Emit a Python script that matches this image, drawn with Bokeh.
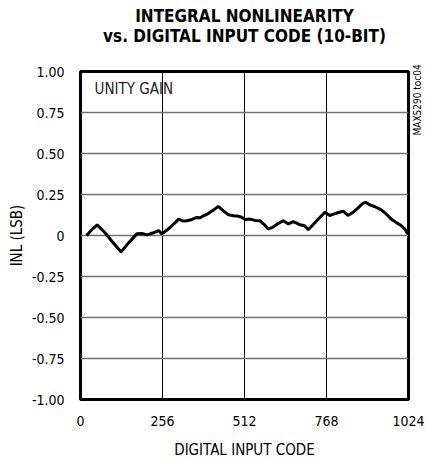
from bokeh.plotting import figure
from bokeh.models import Range1d, FixedTicker, Label, Title
from bokeh.embed import file_html
from bokeh.resources import INLINE

code = [19, 35, 52, 75, 100, 127, 150, 176, 192, 208, 225, 244, 254, 268, 280, 294, 306, 320, 332,
        348, 363, 374, 384, 400, 415, 430, 446, 462, 478, 493, 505, 514, 530, 545, 560, 572, 586,
        600, 615, 633, 649, 664, 675, 685, 700, 711, 728, 745, 763, 778, 790, 805, 820, 835, 850,
        865, 878, 889, 905, 918, 939, 955, 970, 985, 1001, 1012, 1022]
inl = [0.0, 0.035, 0.065, 0.02, -0.04, -0.10, -0.045, 0.01, 0.012, 0.004, 0.015, 0.03, 0.01, 0.03,
       0.05, 0.075, 0.10, 0.088, 0.09, 0.098, 0.11, 0.108, 0.12, 0.135, 0.155, 0.178, 0.15, 0.126,
       0.12, 0.117, 0.11, 0.097, 0.1, 0.092, 0.09, 0.07, 0.04, 0.05, 0.07, 0.09, 0.07, 0.085, 0.075,
       0.065, 0.06, 0.035, 0.07, 0.105, 0.142, 0.122, 0.13, 0.14, 0.148, 0.122, 0.14, 0.165, 0.19,
       0.203, 0.185, 0.177, 0.156, 0.13, 0.10, 0.08, 0.061, 0.04, 0.01]

x_ticks = [0, 256, 512, 768, 1024]
y_ticks = [1.0, 0.75, 0.5, 0.25, 0.0, -0.25, -0.5, -0.75, -1.0]
y_tick_labels = ["1.00", "0.75", "0.50", "0.25", "0", "-0.25", "-0.50", "-0.75", "-1.00"]

title_lines = ["INTEGRAL NONLINEARITY", "vs. DIGITAL INPUT CODE (10-BIT)"]

FONT = "DejaVu Sans Condensed, Liberation Sans"

p = figure(width=426, height=461, output_backend="svg", toolbar_location=None,
           x_range=Range1d(0, 1024), y_range=Range1d(-1, 1),
           min_border_left=80, min_border_right=18, min_border_top=71, min_border_bottom=62)

p.line(code, inl, line_color="black", line_width=3)

p.outline_line_color = "black"
p.outline_line_width = 3
p.background_fill_color = "white"
p.border_fill_color = "white"

p.xaxis.ticker = FixedTicker(ticks=x_ticks)
p.yaxis.ticker = FixedTicker(ticks=y_ticks)
p.yaxis.major_label_overrides = {t: l for t, l in zip(y_ticks, y_tick_labels)}
for ax in (p.xaxis[0], p.yaxis[0]):
    ax.axis_line_color = None
    ax.major_tick_line_color = None
    ax.minor_tick_line_color = None
    ax.major_tick_out = 0
    ax.major_tick_in = 0
    ax.major_label_text_font = FONT
    ax.major_label_text_font_size = "14px"
    ax.major_label_text_color = "black"
    ax.axis_label_text_font = FONT
    ax.axis_label_text_font_size = "15px"
    ax.axis_label_text_font_style = "normal"
    ax.axis_label_text_color = "black"
p.xaxis.axis_label = "DIGITAL INPUT CODE"
p.yaxis.axis_label = "INL (LSB)"
p.xaxis.major_label_standoff = 16
p.yaxis.major_label_standoff = 16
p.xaxis.axis_label_standoff = 12
p.yaxis.axis_label_standoff = 3

p.xgrid.grid_line_color = "black"
p.xgrid.grid_line_width = 1
p.ygrid.grid_line_color = "#707070"
p.ygrid.grid_line_width = 1.5

# two-line bold title; a blank spacer title keeps them clear of the frame
spacer = Title(text=" ", text_font_size="1px", standoff=23)
t2 = Title(text=title_lines[1], align="center", text_font=FONT, text_font_size="17px",
           text_font_style="bold", text_color="black", standoff=0)
t1 = Title(text=title_lines[0], align="center", text_font=FONT, text_font_size="17px",
           text_font_style="bold", text_color="black", standoff=0)
try:
    t1.standoff = -4
except Exception:
    t1.standoff = 0
p.add_layout(spacer, "above")
p.add_layout(t2, "above")
p.add_layout(t1, "above")

# small rotated figure id in the right side panel
p.add_layout(Label(x=9, y=264, x_units="screen", y_units="screen", text="MAX5290 toc04",
                   angle=1.5708, text_font=FONT, text_font_size="10px", text_color="black",
                   text_align="left", text_baseline="middle"), "right")

p.add_layout(Label(x=44, y=0.895, text="UNITY GAIN", text_font=FONT, text_font_size="15px",
                   text_color="#222222", text_baseline="middle"))

open("out.html", "w").write(file_html(p, INLINE))
